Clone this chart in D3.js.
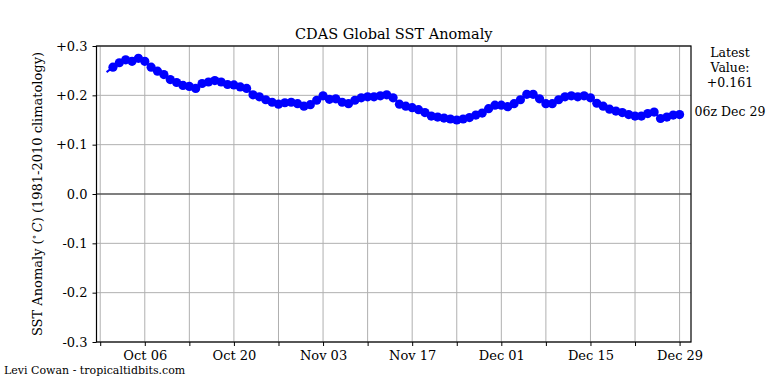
<!DOCTYPE html>
<html>
<head>
  <meta charset="utf-8" />
  <title>CDAS Global SST Anomaly</title>
  <script src="https://d3js.org/d3.v7.min.js"></script>
  <style>
    body { margin: 0; background: #fff; }
    svg text { font-family: "DejaVu Serif", "Liberation Serif", serif; fill: #000; }
  </style>
</head>
<body>
<div id="vis"></div>
<script>
  var w = 768, h = 384;

  // daily SST anomaly, first value Sep 30, last Dec 29
  var startDate = "2019-09-30";
  var anomaly = [
    0.247,
    0.257, 0.266, 0.272, 0.269, 0.275, 0.269, 0.257, 0.249, 0.242, 0.232,
    0.226, 0.220, 0.218, 0.214, 0.224, 0.227, 0.230, 0.227, 0.222, 0.221,
    0.217, 0.214, 0.201, 0.197, 0.191, 0.186, 0.182, 0.185, 0.186, 0.183,
    0.178,
    0.181, 0.190, 0.199, 0.192, 0.193, 0.186, 0.183, 0.190, 0.195, 0.197,
    0.197, 0.199, 0.201, 0.195, 0.182, 0.178, 0.175, 0.171, 0.165, 0.158,
    0.156, 0.154, 0.152, 0.150, 0.152, 0.155, 0.160, 0.164, 0.173, 0.180,
    0.180, 0.177, 0.183, 0.191, 0.202, 0.202, 0.193, 0.183, 0.183, 0.191,
    0.197, 0.199, 0.197, 0.199, 0.195, 0.184, 0.178, 0.172, 0.168, 0.165,
    0.161, 0.158, 0.158, 0.163, 0.166, 0.153, 0.156, 0.160, 0.161
  ];

  var majorTicks = ["2019-10-06", "2019-10-20", "2019-11-03", "2019-11-17", "2019-12-01", "2019-12-15", "2019-12-29"];
  var minorTicks = ["2019-09-29", "2019-10-13", "2019-10-27", "2019-11-10", "2019-11-24", "2019-12-08", "2019-12-22"];
  var yTicks = [-0.3, -0.2, -0.1, 0.0, 0.1, 0.2, 0.3];
  var yTickLabels = ["-0.3", "-0.2", "-0.1", "0.0", "+0.1", "+0.2", "+0.3"];

  var latestValue = "+0.161";
  var latestTime = "06z Dec 29";

  var parse = d3.utcParse("%Y-%m-%d");
  var t0 = parse(startDate);
  var data = anomaly.map(function(v, i) {
    return { date: d3.utcDay.offset(t0, i), value: v };
  });

  var pL = 96.5, pR = 691, pT = 46, pB = 342;

  var x = d3.scaleUtc()
    .domain([new Date(Date.UTC(2019, 8, 28, 10)), new Date(Date.UTC(2019, 11, 30, 19))])
    .range([pL, pR]);
  var y = d3.scaleLinear().domain([-0.3, 0.3]).range([pB, pT]);

  var svg = d3.select("#vis").append("svg")
    .attr("width", w).attr("height", h);

  svg.append("rect").attr("width", w).attr("height", h).attr("fill", "white");

  var allTicks = majorTicks.concat(minorTicks).map(parse);

  // grid
  svg.append("g").selectAll("line")
    .data(allTicks).enter().append("line")
    .attr("x1", function(d) { return x(d); })
    .attr("x2", function(d) { return x(d); })
    .attr("y1", pT).attr("y2", pB)
    .attr("stroke", "#b0b0b0").attr("stroke-width", 1);

  svg.append("g").selectAll("line")
    .data(yTicks).enter().append("line")
    .attr("x1", pL).attr("x2", pR)
    .attr("y1", function(d) { return y(d); })
    .attr("y2", function(d) { return y(d); })
    .attr("stroke", function(d) { return d === 0 ? "#555" : "#b0b0b0"; })
    .attr("stroke-width", function(d) { return d === 0 ? 1.5 : 1; });

  // series
  var line = d3.line()
    .x(function(d) { return x(d.date); })
    .y(function(d) { return y(d.value); });

  svg.append("path").datum(data)
    .attr("d", line)
    .attr("fill", "none")
    .attr("stroke", "#0000ff")
    .attr("stroke-width", 2);

  svg.append("g").selectAll("circle")
    .data(data.slice(1)).enter().append("circle")
    .attr("cx", function(d) { return x(d.date); })
    .attr("cy", function(d) { return y(d.value); })
    .attr("r", 4.6)
    .attr("fill", "#0000ff");

  // axes
  var xAxis = d3.axisBottom(x)
    .tickValues(majorTicks.map(parse))
    .tickFormat(d3.utcFormat("%b %d"))
    .tickSize(4).tickPadding(5);
  var gx = svg.append("g").attr("transform", "translate(0," + pB + ")").call(xAxis)
    .attr("font-family", null).attr("font-size", 13);
  gx.select(".domain").remove();

  svg.append("g").attr("transform", "translate(0," + pB + ")")
    .call(d3.axisBottom(x).tickValues(minorTicks.map(parse)).tickSize(4).tickFormat(""))
    .select(".domain").remove();

  var yAxis = d3.axisLeft(y)
    .tickValues(yTicks)
    .tickFormat(function(d, i) { return yTickLabels[i]; })
    .tickSize(4).tickPadding(5);
  var gy = svg.append("g").attr("transform", "translate(" + pL + ",0)").call(yAxis)
    .attr("font-family", null).attr("font-size", 13);
  gy.select(".domain").remove();

  svg.append("rect")
    .attr("x", pL).attr("y", pT)
    .attr("width", pR - pL).attr("height", pB - pT)
    .attr("fill", "none").attr("stroke", "#000").attr("stroke-width", 1.2);

  // texts
  svg.append("text")
    .attr("x", (pL + pR) / 2).attr("y", 39)
    .attr("text-anchor", "middle").attr("font-size", 14.5)
    .text("CDAS Global SST Anomaly");

  var yl = svg.append("text")
    .attr("transform", "translate(42," + ((pT + pB) / 2) + ") rotate(-90)")
    .attr("text-anchor", "middle").attr("font-size", 13);
  yl.append("tspan").text("SST Anomaly (");
  yl.append("tspan").attr("font-size", 9).attr("dy", -5).text("\u2218");
  yl.append("tspan").attr("dy", 5).text("\u2009");
  yl.append("tspan").attr("font-style", "italic").text("C");
  yl.append("tspan").text(") (1981-2010 climatology)");

  var lt = svg.append("text").attr("text-anchor", "middle").attr("font-size", 12.5);
  ["Latest", "Value:", latestValue].forEach(function(s, i) {
    lt.append("tspan").attr("x", 730).attr("y", 57 + i * 15).text(s);
  });
  svg.append("text").attr("x", 730).attr("y", 116)
    .attr("text-anchor", "middle").attr("font-size", 12.5)
    .text(latestTime);

  svg.append("text").attr("x", 4).attr("y", 374)
    .attr("font-size", 11)
    .text("Levi Cowan - tropicaltidbits.com");
</script>
</body>
</html>
